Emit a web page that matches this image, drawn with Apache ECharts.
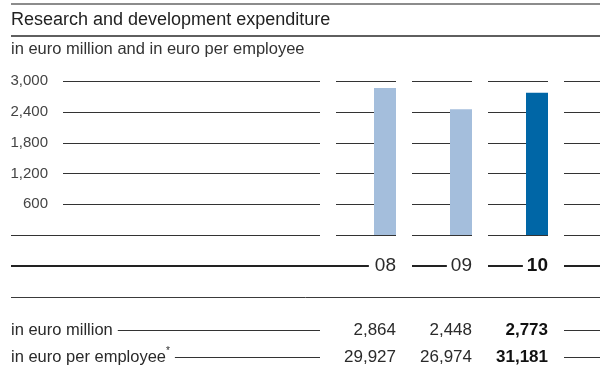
<!DOCTYPE html>
<html>
<head>
<meta charset="utf-8">
<script src="https://cdn.jsdelivr.net/npm/echarts@6/dist/echarts.min.js"></script>
<style>
  html, body { margin: 0; padding: 0; background: #fff; }
  #chart { width: 600px; height: 384px; }
</style>
</head>
<body>
<div id="chart"></div>
<script>
// R&D expenditure by fiscal year
const years = ['08', '09', '10'];
const rdMillion = [2864, 2448, 2773];
const rdPerEmployee = [29927, 26974, 31181];
const yTicks = [0, 600, 1200, 1800, 2400, 3000];
const rowLabels = ['in euro million', 'in euro per employee'];
const footnoteMark = '*';
const titleText = 'Research and development expenditure';
const subtitleText = 'in euro million and in euro per employee';

const FONT = '"Liberation Sans", Arial, sans-serif';
const LIGHT = '#a4bedc';
const DARK = '#0066a6';
const INK = '#333333';
const TEXT = '#2a2a2a';
const GAP = 16;          // white gap at the start of every year column
const RULE_X = 11;       // left edge of the rules
const GRID_LINE_X = 63;  // left edge of the value gridlines
const WIDTH = 600;

const fmt = v => v.toLocaleString('en-US');
const measure = document.createElement('canvas').getContext('2d');
function textWidth(str, size, weight) {
  measure.font = (weight || 'normal') + ' ' + size + 'px ' + FONT;
  return measure.measureText(str).width;
}

const chart = echarts.init(document.getElementById('chart'), null, { renderer: 'canvas' });

// Gridlines broken into one segment per column, the bars sit at each segment's right end
function renderGridRow(params, api) {
  const v = api.value(1);
  const y = Math.round(api.coord([0, v])[1]) + 0.5;
  const band = api.size([1, 0])[0];
  const n = years.length;
  const segs = [];
  const firstStart = api.coord([0, v])[0] - band / 2;
  segs.push([v === 0 ? RULE_X : GRID_LINE_X, firstStart]);
  for (let i = 0; i < n; i++) {
    const c = api.coord([i, v])[0];
    segs.push([c - band / 2 + GAP, c + band / 2]);
  }
  const lastEnd = api.coord([n - 1, v])[0] + band / 2;
  segs.push([lastEnd + GAP, api.getWidth()]);
  return {
    type: 'group',
    children: segs.map(s => ({
      type: 'line',
      shape: { x1: s[0], y1: y, x2: s[1], y2: y },
      style: { stroke: INK, lineWidth: 1 }
    }))
  };
}

const option = {
  animation: false,
  grid: { left: 320, right: 52, top: 81, bottom: 149 },
  xAxis: {
    type: 'category',
    data: years,
    axisLine: { show: false },
    axisTick: { show: false },
    axisLabel: { show: false },
    splitLine: { show: false }
  },
  yAxis: {
    type: 'value',
    min: 0,
    max: 3000,
    interval: 600,
    axisLine: { show: false },
    axisTick: { show: false },
    splitLine: { show: false },
    axisLabel: {
      margin: 272,
      fontSize: 15,
      color: '#444',
      fontFamily: FONT,
      formatter: v => (v === 0 ? '' : fmt(v))
    }
  },
  series: [
    {
      type: 'custom',
      name: 'gridlines',
      renderItem: renderGridRow,
      data: yTicks.map(v => [0, v]),
      encode: { x: 0, y: 1 },
      clip: false,
      silent: true,
      z: 1
    },
    {
      type: 'bar',
      name: 'spacer',
      data: years.map(() => 0),
      barWidth: 54,
      barGap: '0%',
      itemStyle: { color: 'rgba(0,0,0,0)' },
      silent: true,
      z: 2
    },
    {
      type: 'bar',
      name: 'R&D expenditure',
      data: rdMillion.map((v, i) => ({
        value: v,
        itemStyle: { color: i === years.length - 1 ? DARK : LIGHT }
      })),
      barWidth: 22,
      barGap: '0%',
      z: 3
    }
  ]
};

chart.setOption(option);

// Column geometry taken from the category axis
const centers = years.map(y => chart.convertToPixel({ xAxisIndex: 0 }, y));
const band = centers.length > 1 ? centers[1] - centers[0] : 76;
const colRight = centers.map(c => c + band / 2);
const colStart = centers.map(c => c - band / 2);
const lastRight = colRight[colRight.length - 1];

const g = [];
function hline(x1, x2, y, w, color) {
  g.push({ type: 'line', silent: true, shape: { x1: x1, y1: y, x2: x2, y2: y }, style: { stroke: color || INK, lineWidth: w || 1 } });
}
function text(str, x, y, size, opts) {
  opts = opts || {};
  g.push({
    type: 'text', silent: true,
    style: {
      text: str, x: x, y: y,
      fontSize: size, fontFamily: FONT, fontWeight: opts.weight || 'normal',
      fill: opts.color || TEXT, align: opts.align || 'left', verticalAlign: 'middle'
    }
  });
}

// Header
g.push({ type: 'rect', silent: true, shape: { x: RULE_X, y: 3, width: WIDTH - RULE_X, height: 2 }, style: { fill: '#8c8c8c' } });
text(titleText, RULE_X, 20, 18, { color: '#222' });
hline(RULE_X, WIDTH, 36, 1.5, '#2a2a2a');
text(subtitleText, RULE_X, 49, 16.5, { color: '#333' });

// Year row
const yearY = 266;
const yearSize = 19;
years.forEach((yr, i) => {
  const bold = i === years.length - 1;
  const w = textWidth(yr, yearSize, bold ? 'bold' : 'normal');
  const left = colRight[i] - w;
  if (i === 0) {
    hline(RULE_X, left - 6, yearY, 2, '#222');
  } else {
    hline(colStart[i] + GAP, left - 4, yearY, 2, '#222');
  }
  text(yr, colRight[i], yearY, yearSize, { align: 'right', weight: bold ? 'bold' : 'normal', color: bold ? '#111' : TEXT });
});
hline(lastRight + GAP, WIDTH, yearY, 2, '#222');

hline(RULE_X, WIDTH, 297.5, 1, '#3a3a3a');

// Value table
const rows = [rdMillion, rdPerEmployee];
const rowY = [330.5, 357.5];
const labelSize = 16.5;
const valueSize = 17;
rows.forEach((vals, r) => {
  const y = rowY[r];
  text(rowLabels[r], RULE_X, y, labelSize);
  let labelEnd = RULE_X + textWidth(rowLabels[r], labelSize);
  if (r === 1) {
    text(footnoteMark, labelEnd, y - 6, 10);
    labelEnd += textWidth(footnoteMark, 10);
  }
  hline(labelEnd + 5, colStart[0], y, 1);
  vals.forEach((v, i) => {
    const bold = i === vals.length - 1;
    text(fmt(v), colRight[i], y, valueSize, { align: 'right', weight: bold ? 'bold' : 'normal', color: bold ? '#111' : TEXT });
  });
  hline(lastRight + GAP, WIDTH, y, 1);
});

chart.setOption({ graphic: { elements: g } });
</script>
</body>
</html>
